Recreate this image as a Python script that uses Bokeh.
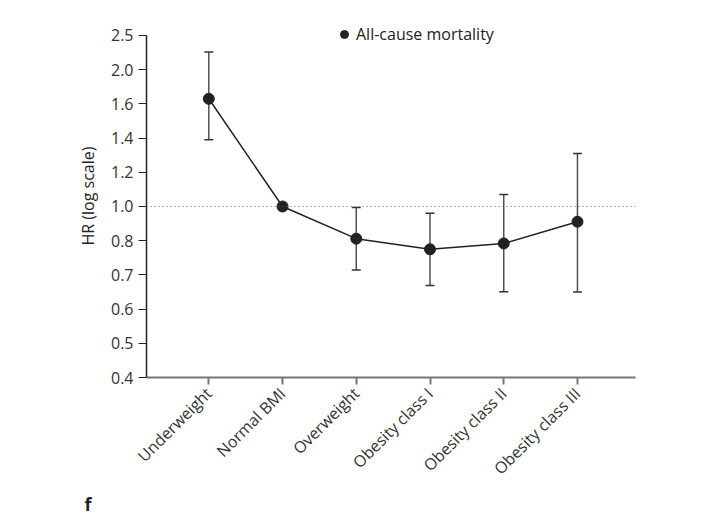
import numpy as np
from bokeh.plotting import figure
from bokeh.models import (ColumnDataSource, Whisker, TeeHead, Span, Legend, LegendItem,
                          Title, FixedTicker, Range1d)
from bokeh.embed import file_html
from bokeh.resources import INLINE

categories = ["Underweight", "Normal BMI", "Overweight", "Obesity class I",
              "Obesity class II", "Obesity class III"]
hr = [1.66, 1.0, 0.812, 0.775, 0.792, 0.911]
ci_low = [1.39, 1.0, 0.714, 0.669, 0.651, 0.65]
ci_high = [2.26, 1.0, 0.994, 0.96, 1.07, 1.31]
y_tick_labels = ["0.4", "0.5", "0.6", "0.7", "0.8", "1.0", "1.2", "1.4", "1.6", "2.0", "2.5"]
panel_letter = "f"

tick_vals = np.array([float(t) for t in y_tick_labels])
tick_pos = np.arange(len(tick_vals))


def to_axis(v):
    return np.interp(np.asarray(v, dtype=float), tick_vals, tick_pos)


xs = np.arange(len(categories))
src = ColumnDataSource(dict(x=xs, y=to_axis(hr), lo=to_axis(ci_low), hi=to_axis(ci_high)))

FONT = "Open Sans"
DARK = "#222222"

p = figure(width=709, height=516, output_backend="svg", toolbar_location=None,
           x_range=Range1d(-0.845, 5.787), y_range=Range1d(0, 10.614),
           min_border_left=146, min_border_right=74, min_border_top=14, min_border_bottom=139)
p.outline_line_color = None
p.grid.visible = False

# reference line at HR = 1.0
p.add_layout(Span(location=float(to_axis(1.0)), dimension="width", line_color="#666666",
                  line_dash="1 3", line_width=1))

# error bars
sel = [0, 2, 3, 4, 5]
sub = ColumnDataSource(dict(x=xs[sel], lo=src.data["lo"][sel], hi=src.data["hi"][sel]))
wh = Whisker(source=sub, base="x", upper="hi", lower="lo", line_color="#505050", line_width=1.5,
             upper_head=TeeHead(size=9, line_color="#333333", line_width=1.5),
             lower_head=TeeHead(size=9, line_color="#333333", line_width=1.5))
p.add_layout(wh)

line = p.line("x", "y", source=src, line_color=DARK, line_width=1.5)
dots = p.scatter("x", "y", source=src, size=11, color=DARK)

legend = Legend(items=[LegendItem(label="All-cause mortality", renderers=[dots])],
                location=(188, 332), padding=0, margin=0, spacing=0,
                glyph_width=20, glyph_height=20, label_height=20, label_standoff=2,
                border_line_color=None, background_fill_alpha=0,
                label_text_font=FONT, label_text_font_size="16px", label_text_color=DARK)
p.add_layout(legend)

# y axis
p.yaxis.ticker = FixedTicker(ticks=list(tick_pos))
p.yaxis.bounds = (0, 10)
p.yaxis.major_label_overrides = {int(i): s for i, s in zip(tick_pos, y_tick_labels)}
p.yaxis.axis_label = "HR (log scale)"
p.yaxis.axis_label_text_font = FONT
p.yaxis.axis_label_text_font_style = "normal"
p.yaxis.axis_label_text_font_size = "16px"
p.yaxis.axis_label_text_color = DARK
p.yaxis.axis_label_standoff = 9
p.yaxis.major_label_text_font = FONT
p.yaxis.major_label_text_font_size = "16px"
p.yaxis.major_label_text_color = "#333333"
p.yaxis.axis_line_color = DARK
p.yaxis.axis_line_width = 1.5
p.yaxis.major_tick_line_color = DARK
p.yaxis.major_tick_out = 8
p.yaxis.major_tick_in = 0
p.yaxis.minor_tick_line_color = None
p.yaxis.major_label_standoff = 5

# x axis
p.xaxis.ticker = FixedTicker(ticks=list(xs))
p.xaxis.major_label_overrides = {int(i): c for i, c in zip(xs, categories)}
p.xaxis.major_label_orientation = np.pi / 4
p.xaxis.major_label_text_font = FONT
p.xaxis.major_label_text_font_size = "16px"
p.xaxis.major_label_text_color = "#333333"
p.xaxis.axis_line_color = "#777777"
p.xaxis.axis_line_width = 2
p.xaxis.major_tick_line_color = "#777777"
p.xaxis.major_tick_line_width = 2
p.xaxis.major_tick_out = 7
p.xaxis.major_tick_in = 0
p.xaxis.minor_tick_line_color = None
p.xaxis.major_label_standoff = 6

p.add_layout(Title(text=panel_letter, align="left", offset=-62, standoff=0,
                   text_font=FONT, text_font_style="bold", text_font_size="18px",
                   text_color=DARK), "below")

open("out.html", "w").write(file_html(p, INLINE))
